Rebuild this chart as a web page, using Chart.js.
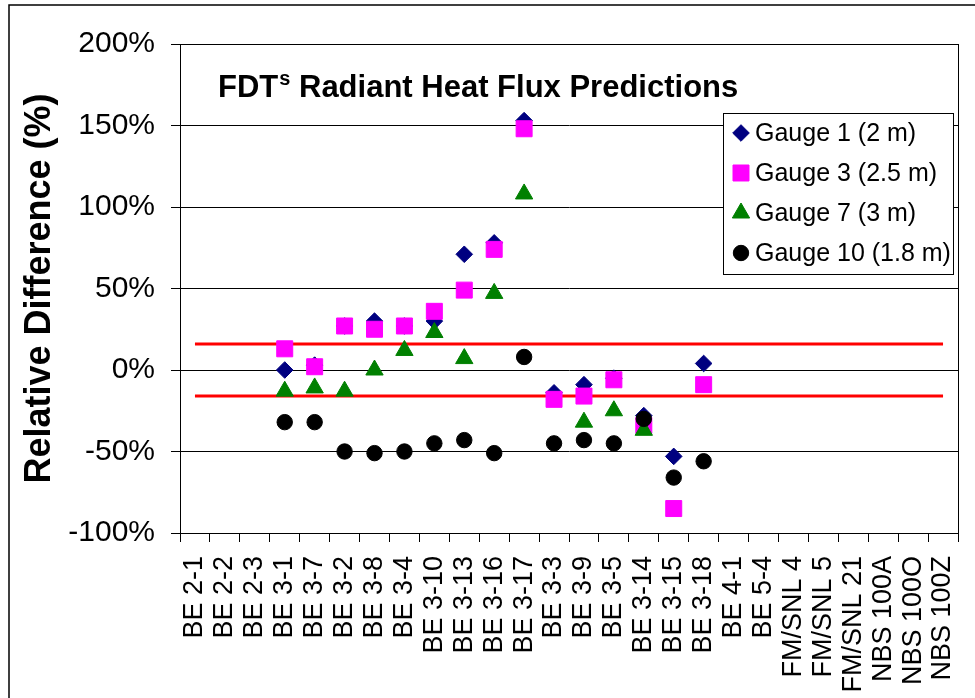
<!DOCTYPE html>
<html>
<head>
<meta charset="utf-8">
<script src="https://cdn.jsdelivr.net/npm/chart.js@4.4.1/dist/chart.umd.min.js"></script>
<style>
html,body{margin:0;padding:0;background:#fff;}
#wrap{width:975px;height:698px;position:relative;}
</style>
</head>
<body>
<div id="wrap"><canvas id="c" width="975" height="698"></canvas></div>
<script>
const categories = ['BE 2-1','BE 2-2','BE 2-3','BE 3-1','BE 3-7','BE 3-2','BE 3-8','BE 3-4','BE 3-10','BE 3-13','BE 3-16','BE 3-17','BE 3-3','BE 3-9','BE 3-5','BE 3-14','BE 3-15','BE 3-18','BE 4-1','BE 5-4','FM/SNL 4','FM/SNL 5','FM/SNL 21','NBS 100A','NBS 100O','NBS 100Z'];
const gauge1  = [null,null,null,   0,   3,  27,  30,  27,  30,  71,  78, 153, -14,  -9,  -5, -28, -53,   4, null,null,null,null,null,null,null,null];
const gauge3  = [null,null,null,  13,   2,  27,  25,  27,  36,  49,  74, 148, -18, -16,  -6, -34, -85,  -9, null,null,null,null,null,null,null,null];
const gauge7  = [null,null,null, -13, -11, -13,   0,  12,  23,   7,  47, 108, null, -32, -25, -37, null, null, null,null,null,null,null,null];
const gauge10 = [null,null,null, -32, -32, -50, -51, -50, -45, -43, -51,   8, -45, -43, -45, -30, -66, -56, null,null,null,null,null,null,null,null];
const upperLimit = [16,16,16,16,16,16,16,16,16,16,16,16,16,16,16,16,16,16,16,16,16,16,16,16,16,16];
const lowerLimit = [-16,-16,-16,-16,-16,-16,-16,-16,-16,-16,-16,-16,-16,-16,-16,-16,-16,-16,-16,-16,-16,-16,-16,-16,-16,-16];
const yTicks = [-100,-50,0,50,100,150,200];
const seriesNames = ['Gauge 1 (2 m)','Gauge 3 (2.5 m)','Gauge 7 (3 m)','Gauge 10 (1.8 m)'];
const chartTitle = 'FDT';
const chartTitleSup = 's';
const chartTitleRest = ' Radiant Heat Flux Predictions';
const yTitle = 'Relative Difference (%)';

const FONT = "'Liberation Sans', Arial, sans-serif";

function pointDs(label, data, style, radius, color, order) {
  return {label, data, showLine:false, pointStyle:style, pointRadius:radius, pointHoverRadius:radius,
    backgroundColor:color, borderColor:color, pointBorderWidth:1, order, isGauge:true};
}

const framePlugin = {
  id:'frame',
  beforeDraw(chart){
    const c = chart.ctx;
    c.save();
    c.fillStyle = '#fff';
    c.fillRect(0,0,chart.width,chart.height);
    c.strokeStyle = '#000';
    c.lineWidth = 1.5;
    c.beginPath();
    c.moveTo(9, chart.height + 2);
    c.lineTo(9, 5);
    c.lineTo(chart.width + 2, 5);
    c.stroke();
    c.restore();
  },
  beforeDatasetsDraw(chart){
    const a = chart.chartArea, c = chart.ctx;
    c.save();
    c.strokeStyle = '#000';
    c.lineWidth = 1;
    c.strokeRect(Math.round(a.left)+0.5, Math.round(a.top)+0.5, Math.round(a.right-a.left), Math.round(a.bottom-a.top));
    // title
    c.fillStyle = '#000';
    c.textBaseline = 'alphabetic';
    c.textAlign = 'left';
    let x = a.left + 38, y = a.top + 53;
    c.font = "bold 31px " + FONT;
    c.fillText(chartTitle, x, y);
    x += c.measureText(chartTitle).width + 1;
    c.font = "bold 20px " + FONT;
    c.fillText(chartTitleSup, x, y - 12);
    x += c.measureText(chartTitleSup).width;
    c.font = "bold 31px " + FONT;
    c.fillText(chartTitleRest, x, y);
    c.restore();
  },
  afterDraw(chart){
    const a = chart.chartArea, c = chart.ctx;
    const bx = a.right - 235, by = a.top + 69, bw = 230, bh = 161;
    c.save();
    c.fillStyle = '#fff';
    c.fillRect(bx, by, bw, bh);
    c.strokeStyle = '#000';
    c.lineWidth = 1;
    c.strokeRect(Math.round(bx)+0.5, Math.round(by)+0.5, bw, bh);
    const gauges = chart.data.datasets.filter(d => d.isGauge);
    gauges.forEach((d, i) => {
      const cy = by + 20 + 40 * i;
      c.fillStyle = d.backgroundColor;
      c.strokeStyle = d.borderColor;
      c.lineWidth = 1;
      Chart.helpers.drawPoint(c, {pointStyle:d.pointStyle, radius:d.pointRadius, rotation:0, borderWidth:1}, bx + 18, cy);
      c.fillStyle = '#000';
      c.font = "25px " + FONT;
      c.textBaseline = 'middle';
      c.textAlign = 'left';
      c.fillText(d.label, bx + 32, cy + 1);
    });
    c.restore();
  }
};

new Chart(document.getElementById('c').getContext('2d'), {
  type:'line',
  data:{
    labels:categories,
    datasets:[
      pointDs(seriesNames[0], gauge1, 'rectRot', 8.3, '#000080', 3),
      pointDs(seriesNames[1], gauge3, 'rect', 11.3, '#FF00FF', 2),
      pointDs(seriesNames[2], gauge7, 'triangle', 10, '#008000', 1),
      pointDs(seriesNames[3], gauge10, 'circle', 7.7, '#000000', 0),
      {label:'upper', data:upperLimit, borderColor:'#FF0000', borderWidth:3, pointRadius:0, fill:false, order:10},
      {label:'lower', data:lowerLimit, borderColor:'#FF0000', borderWidth:3, pointRadius:0, fill:false, order:10}
    ]
  },
  options:{
    responsive:false, animation:false, devicePixelRatio:1,
    layout:{padding:{top:44, right:17, left:0, bottom:0}},
    plugins:{legend:{display:false}, tooltip:{enabled:false}},
    scales:{
      x:{
        offset:true,
        grid:{offset:true, drawOnChartArea:false, tickLength:9, color:'#000', tickColor:'#000'},
        border:{color:'#000', width:1},
        ticks:{minRotation:90, maxRotation:90, autoSkip:false, font:{family:FONT, size:27}, color:'#000', padding:14},
        afterFit(s){ s.height = 165; s.paddingLeft = 0; s.paddingRight = 0; }
      },
      y:{
        min:yTicks[0], max:yTicks[yTicks.length-1],
        afterBuildTicks(s){ s.ticks = yTicks.map(v => ({value:v})); },
        ticks:{callback:v => v + '%', font:{family:FONT, size:30}, color:'#000', padding:16},
        grid:{color:'#000', tickLength:9, tickColor:'#000'},
        border:{color:'#000', width:1},
        title:{display:true, text:yTitle, font:{family:FONT, size:36, weight:'bold'}, color:'#000', padding:{top:18, bottom:0}},
        afterFit(s){ s.width = 180; s.paddingTop = 0; s.paddingBottom = 0; }
      }
    }
  },
  plugins:[framePlugin]
});
</script>
</body>
</html>
